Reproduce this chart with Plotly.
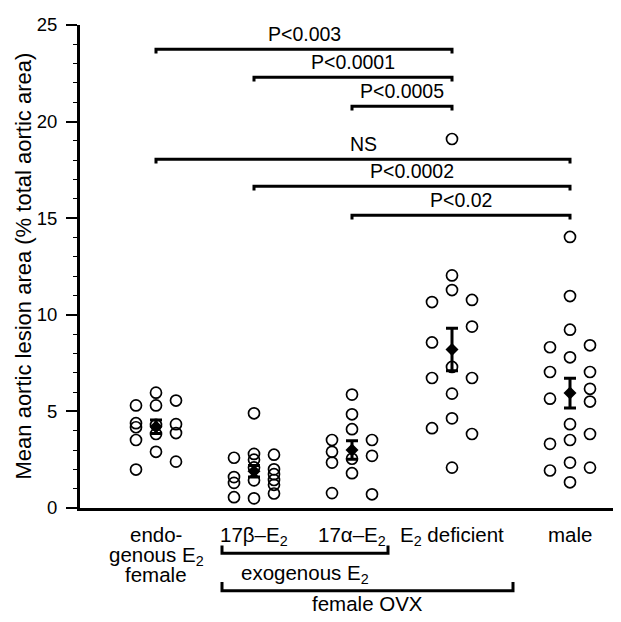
import plotly.graph_objects as go

# ---------------- data ----------------
GROUPS = ["endogenous E2 female", "17b-E2", "17a-E2", "E2 deficient", "male"]

# individual animals, listed per plotted column (left, middle, right)
ENDO = [[5.31, 4.39, 4.18, 3.52, 1.99],
        [5.97, 5.31, 4.30, 3.83, 2.91],
        [5.56, 4.34, 3.88, 2.40]]
BETA = [[2.60, 1.60, 1.30, 0.56],
        [4.90, 2.80, 2.50, 2.10, 1.43, 0.50],
        [2.76, 2.00, 1.75, 1.45, 1.20, 0.75]]
ALPHA = [[3.52, 2.91, 2.35, 0.77],
         [5.87, 4.85, 4.08, 2.55, 1.80],
         [3.52, 2.70, 0.71]]
DEFIC = [[10.66, 8.57, 6.73, 4.13],
         [19.10, 12.04, 11.28, 7.30, 5.92, 4.64, 2.09],
         [10.77, 9.39, 6.73, 3.83]]
MALE = [[8.32, 7.04, 5.66, 3.32, 1.94],
        [14.03, 10.97, 9.23, 7.80, 4.34, 3.52, 2.35, 1.33],
        [8.42, 7.04, 6.17, 5.51, 3.83, 2.09]]
VALUES = [ENDO, BETA, ALPHA, DEFIC, MALE]

MEANS = [4.20, 1.90, 3.00, 8.20, 5.95]
SEMS = [0.35, 0.30, 0.48, 1.10, 0.77]

COMPARISONS = [(0, 3, "P<0.003"), (1, 3, "P<0.0001"), (2, 3, "P<0.0005"),
               (0, 4, "NS"), (1, 4, "P<0.0002"), (2, 4, "P<0.02")]

Y_TICKS = [0, 5, 10, 15, 20, 25]
Y_TITLE = "Mean aortic lesion area (% total aortic area)"

# ---------------- layout parameters ----------------
GROUP_X = [0.76, 1.74, 2.72, 3.72, 4.90]
COL_OFF = [-0.20, 0.0, 0.20]
BRACKET_Y = [23.75, 22.3, 20.8, 18.05, 16.65, 15.15]
FONT = "Liberation Sans, Arial, Helvetica, sans-serif"

# the page body adds an 8px margin, so the figure is drawn 8px smaller
OFF = 8
W, H = 621 - OFF, 622 - OFF
ML, MT = 80 - OFF, 18 - OFF
PW, PH = 535, 490
MR = W - ML - PW
MB = H - MT - PH
Y0_PIX = 508  # reference pixel row of y = 0


def py(pix):
    """reference pixel row -> paper y"""
    return (Y0_PIX - pix) / PH


def px(pix):
    """reference pixel column -> paper x"""
    return (pix - 80) / PW


fig = go.Figure()

# individual points
xs, ys = [], []
for gi, cols in enumerate(VALUES):
    for ci, col in enumerate(cols):
        for v in col:
            xs.append(GROUP_X[gi] + COL_OFF[ci])
            ys.append(v)
fig.add_trace(go.Scatter(
    x=xs, y=ys, mode="markers",
    marker=dict(symbol="circle-open", size=11, color="black",
                line=dict(width=1.7, color="black")),
    hoverinfo="y", showlegend=False))

# means +/- SEM
fig.add_trace(go.Scatter(
    x=GROUP_X, y=MEANS, mode="markers",
    marker=dict(symbol="diamond", size=10, color="black"),
    error_y=dict(type="data", array=SEMS, color="black", thickness=3, width=6),
    showlegend=False))

shapes = []
annotations = []
tick = 0.22
for (a, b, lab), yb in zip(COMPARISONS, BRACKET_Y):
    xa, xb = GROUP_X[a], GROUP_X[b]
    shapes.append(dict(type="path", xref="x", yref="y",
                       path=f"M {xa},{yb - tick} L {xa},{yb} L {xb},{yb} L {xb},{yb - tick}",
                       line=dict(color="black", width=3)))
    annotations.append(dict(x=(xa + xb) / 2, y=yb, xref="x", yref="y", text=lab,
                            showarrow=False, yanchor="bottom", yshift=2,
                            font=dict(size=19.5, color="black", family=FONT)))

# category labels under the axis
cat_lines = [
    (0, ["endo-", "genous E<sub>2</sub>", "female"]),
    (1, ["17\u03b2\u2013E<sub>2</sub>"]),
    (2, ["17\u03b1\u2013E<sub>2</sub>"]),
    (3, ["E<sub>2</sub> deficient"]),
    (4, ["male"]),
]
line_rows = [534.5, 554.5, 575]
LAB = 20.5
for gi, lines in cat_lines:
    for li, t in enumerate(lines):
        annotations.append(dict(x=GROUP_X[gi], y=py(line_rows[li]), xref="x", yref="paper",
                                text=t, showarrow=False, yanchor="middle",
                                yshift=-2 if "<sub>" in t else 0,
                                font=dict(size=LAB, color="black", family=FONT)))

# grouping brackets below the labels
x_exo0 = GROUP_X[1] - 0.32
x_exo1 = GROUP_X[2] + 0.36
x_ovx1 = GROUP_X[3] + 0.61
shapes.append(dict(type="path", xref="x", yref="paper",
                   path=f"M {x_exo0},{py(546)} L {x_exo0},{py(554)} L {x_exo1},{py(554)} L {x_exo1},{py(546)}",
                   line=dict(color="black", width=3)))
shapes.append(dict(type="path", xref="x", yref="paper",
                   path=f"M {x_exo0},{py(583)} L {x_exo0},{py(592)} L {x_ovx1},{py(592)} L {x_ovx1},{py(583)}",
                   line=dict(color="black", width=3)))
annotations.append(dict(x=(x_exo0 + x_exo1) / 2, y=py(573), xref="x", yref="paper",
                        text="exogenous E<sub>2</sub>", showarrow=False, yanchor="middle", yshift=-2,
                        font=dict(size=LAB, color="black", family=FONT)))
annotations.append(dict(x=(x_exo0 + x_ovx1) / 2, y=py(605), xref="x", yref="paper",
                        text="female OVX", showarrow=False, yanchor="middle",
                        font=dict(size=LAB, color="black", family=FONT)))

# y-axis title
annotations.append(dict(x=px(23), y=0.5, xref="paper", yref="paper", text=Y_TITLE,
                        textangle=-90, showarrow=False, xanchor="center", yanchor="middle",
                        font=dict(size=22, color="black", family=FONT)))

fig.update_layout(
    width=W, height=H,
    margin=dict(l=ML, r=MR, t=MT, b=MB, pad=0),
    paper_bgcolor="white", plot_bgcolor="white",
    font=dict(family=FONT, size=18, color="black"),
    shapes=shapes, annotations=annotations,
    xaxis=dict(range=[0, 5.35], showgrid=False, zeroline=False, showticklabels=False,
               ticks="", showline=True, linecolor="black", linewidth=3, fixedrange=True),
    yaxis=dict(range=[0, 25], tickvals=Y_TICKS, showgrid=False, zeroline=False,
               showline=True, linecolor="black", linewidth=3,
               ticks="outside", ticklen=11, tickwidth=1.5, tickcolor="black",
               ticklabelstandoff=5, ticklabeloverflow="allow",
               minor=dict(dtick=1, ticks="outside", ticklen=4, tickwidth=1, tickcolor="black"),
               tickfont=dict(size=18.5, family=FONT)),
)

fig.write_html("out.html")
